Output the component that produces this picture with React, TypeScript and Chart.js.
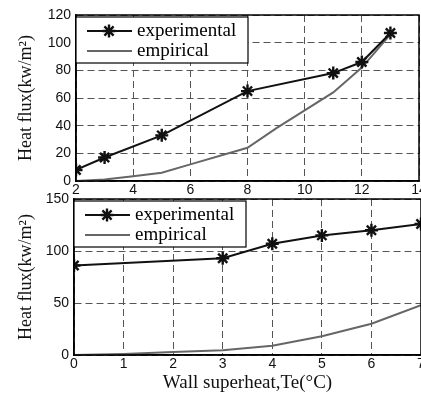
import React, { useEffect, useRef } from "react";
import { Chart, registerables } from "chart.js";

Chart.register(...registerables);

// Top panel
const topExpX = [2, 3, 5, 8, 11, 12, 13];
const topExpY = [8, 17, 33, 65, 78, 86, 107];
const topEmpX = [2, 3, 4, 5, 6, 8, 9, 10, 11, 12, 13];
const topEmpY = [0, 1, 3.5, 6, 12, 24, 38, 51, 64, 82, 106];

// Bottom panel
const botExpX = [0, 3, 4, 5, 6, 7];
const botExpY = [86, 93, 107, 115, 120, 126];
const botEmpX = [0, 1, 2, 3, 4, 5, 6, 7];
const botEmpY = [0, 1, 3, 4.5, 9, 18, 30, 48];

const seriesLabels = ["experimental", "empirical"];
const yTitle = "Heat flux(kw/m\u00B2)";
const xTitle = "Wall superheat,Te(\u00B0C)";

const SERIF = "'Liberation Serif', 'Times New Roman', serif";
const SANS = "'Liberation Sans', Arial, sans-serif";

const zip = (xs: number[], ys: number[]) => xs.map((x, i) => ({ x, y: ys[i] }));

const frameLegendPlugin = {
  id: "frameLegend",
  afterDraw(chart: any) {
    const { ctx, chartArea } = chart;
    const { left, top, right, bottom } = chartArea;
    ctx.save();
    ctx.setLineDash([]);
    ctx.strokeStyle = "#000";
    ctx.lineWidth = 1.5;
    ctx.strokeRect(left, top, right - left, bottom - top);
    // legend box
    const bx = left;
    const by = top + 2;
    const bw = 172;
    const bh = 46;
    ctx.fillStyle = "#fff";
    ctx.fillRect(bx, by, bw, bh);
    ctx.lineWidth = 1.2;
    ctx.strokeRect(bx, by, bw, bh);
    const ds = chart.data.datasets;
    ds.forEach((d: any, i: number) => {
      const yy = by + 14 + i * 20;
      ctx.beginPath();
      ctx.strokeStyle = d.borderColor;
      ctx.lineWidth = d.borderWidth;
      ctx.moveTo(bx + 11, yy);
      ctx.lineTo(bx + 56, yy);
      ctx.stroke();
      if (d.pointRadius > 0) {
        const cx = bx + 33;
        const r = 6.5;
        ctx.lineWidth = 2.4;
        ctx.beginPath();
        for (let k = 0; k < 4; k++) {
          const a = (k * Math.PI) / 4;
          ctx.moveTo(cx - r * Math.cos(a), yy - r * Math.sin(a));
          ctx.lineTo(cx + r * Math.cos(a), yy + r * Math.sin(a));
        }
        ctx.stroke();
      }
      ctx.fillStyle = "#000";
      ctx.font = `19px ${SERIF}`;
      ctx.textBaseline = "middle";
      ctx.textAlign = "left";
      ctx.fillText(d.label, bx + 61, yy);
    });
    ctx.restore();
  },
};

function makeConfig(
  exp: { x: number; y: number }[],
  emp: { x: number; y: number }[],
  xMin: number,
  xMax: number,
  xStep: number,
  yMax: number,
  yStep: number,
  yAxisWidth: number,
  xAxisHeight: number,
  padTop: number,
  padRight: number,
  showXTitle: boolean
): any {
  const grid = {
    color: "#555",
    lineWidth: 1,
    drawTicks: false,
  };
  const border = { display: true, color: "#000", width: 1.5, dash: [7, 4] };
  return {
    type: "line",
    data: {
      datasets: [
        {
          label: seriesLabels[0],
          data: exp,
          borderColor: "#111",
          backgroundColor: "#111",
          borderWidth: 2,
          pointStyle: "star",
          pointRadius: 6.5,
          pointBorderWidth: 2.4,
          pointBorderColor: "#111",
          tension: 0,
        },
        {
          label: seriesLabels[1],
          data: emp,
          borderColor: "#666",
          backgroundColor: "#666",
          borderWidth: 2,
          pointRadius: 0,
          tension: 0,
        },
      ],
    },
    options: {
      animation: false,
      responsive: false,
      maintainAspectRatio: false,
      layout: { padding: { top: padTop, right: padRight, left: 0, bottom: 0 } },
      plugins: { legend: { display: false }, tooltip: { enabled: false } },
      scales: {
        x: {
          type: "linear",
          min: xMin,
          max: xMax,
          grid,
          border,
          ticks: {
            stepSize: xStep,
            color: "#111",
            padding: 1,
            font: { family: SANS, size: 14 },
            maxRotation: 0,
          },
          title: {
            display: showXTitle,
            text: xTitle,
            color: "#111",
            font: { family: SERIF, size: 19 },
            padding: { top: 0, bottom: 0 },
          },
          afterFit: (s: any) => {
            s.height = xAxisHeight;
          },
        },
        y: {
          type: "linear",
          min: 0,
          max: yMax,
          grid,
          border,
          ticks: {
            stepSize: yStep,
            color: "#111",
            padding: 5,
            font: { family: SANS, size: 14 },
          },
          title: {
            display: true,
            text: yTitle,
            color: "#111",
            font: { family: SERIF, size: 18 },
            padding: { top: 15, bottom: 0 },
          },
          afterFit: (s: any) => {
            s.width = yAxisWidth;
          },
        },
      },
    },
    plugins: [frameLegendPlugin],
  };
}

export default function App() {
  const topRef = useRef<HTMLCanvasElement>(null);
  const botRef = useRef<HTMLCanvasElement>(null);

  useEffect(() => {
    const topCfg = makeConfig(
      zip(topExpX, topExpY),
      zip(topEmpX, topEmpY),
      2, 14, 2, 120, 20,
      76, 19, 15, 21, false
    );
    const botCfg = makeConfig(
      zip(botExpX, botExpY),
      zip(botEmpX, botEmpY),
      0, 7, 1, 150, 50,
      74, 39, 14, 19, true
    );
    const c1 = new Chart(topRef.current as HTMLCanvasElement, topCfg);
    const c2 = new Chart(botRef.current as HTMLCanvasElement, botCfg);
    return () => {
      c1.destroy();
      c2.destroy();
    };
  }, []);

  return (
    <div
      style={{
        position: "fixed",
        left: 0,
        top: 0,
        width: 421,
        height: 394,
        overflow: "hidden",
        background: "#fff",
      }}
    >
      <canvas
        ref={botRef}
        width={440}
        height={209}
        style={{ position: "absolute", left: 0, top: 185, width: 440, height: 209 }}
      />
      <canvas
        ref={topRef}
        width={440}
        height={200}
        style={{ position: "absolute", left: 0, top: 0, width: 440, height: 200 }}
      />
    </div>
  );
}
